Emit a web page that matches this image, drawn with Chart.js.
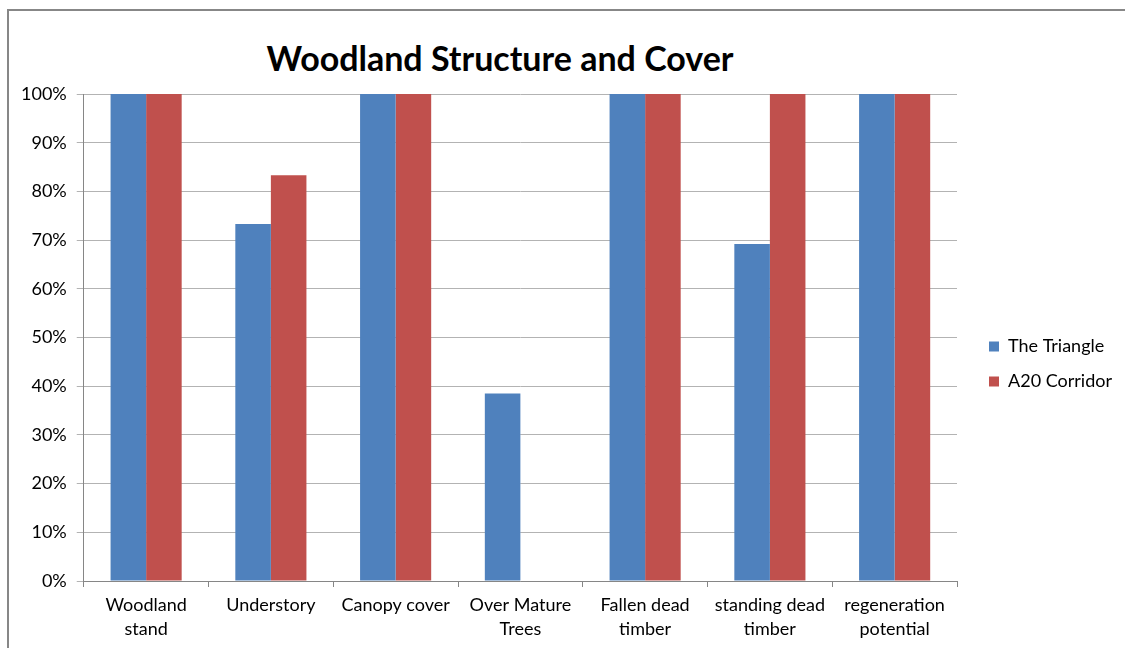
<!DOCTYPE html>
<html lang="en">

<head>
    <meta charset="UTF-8">
    <title>Woodland Structure and Cover</title>
    <script src="https://cdn.jsdelivr.net/npm/chart.js"></script>
</head>

<body style="margin: 0; background: #fff; width: 1125px; height: 648px; overflow: hidden; position: relative;">
    <div style="position: absolute; left: 7px; top: 9px; width: 1140px; height: 660px;
        border: 2px solid #878787; box-sizing: border-box;"></div>
    <div style="position: absolute; left: 0; top: 37px; width: 1000px; text-align: center;
        font-family: Lato, sans-serif; font-weight: bold; font-size: 34px; color: #000;">
        Woodland Structure and Cover</div>
    <div style="position: absolute; left: 0; top: 0; width: 1125px; height: 648px;">
        <canvas id="woodChart"></canvas>
    </div>

    <script>
        const categories = [
            ['Woodland', 'stand'],
            'Understory',
            'Canopy cover',
            ['Over Mature', 'Trees'],
            ['Fallen dead', 'timber'],
            ['standing dead', 'timber'],
            ['regeneration', 'potential']
        ];
        const triangle = [100, 73.3, 100, 38.5, 100, 69.2, 100];
        const a20Corridor = [100, 83.3, 100, 0, 100, 100, 100];

        const font = 'Lato, sans-serif';

        // empty spacer axes, only used to leave room around the plot
        const spacer = (size, key) => ({
            display: true,
            grid: { display: false },
            border: { display: false },
            ticks: { display: false },
            afterFit: s => { s[key] = size; }
        });

        const ctx = document.getElementById('woodChart').getContext('2d');
        new Chart(ctx, {
            type: 'bar',
            data: {
                labels: categories,
                datasets: [{
                    label: 'The Triangle',
                    data: triangle,
                    backgroundColor: '#4F81BD'
                }, {
                    label: 'A20 Corridor',
                    data: a20Corridor,
                    backgroundColor: '#C0504D'
                }]
            },
            options: {
                responsive: true,
                maintainAspectRatio: false,
                animation: false,
                categoryPercentage: 0.57,
                barPercentage: 1,
                layout: {
                    padding: { top: 81, left: 11, right: 3, bottom: 1 }
                },
                scales: {
                    x: {
                        grid: {
                            drawOnChartArea: false,
                            tickLength: 6,
                            color: '#868686'
                        },
                        border: { color: '#868686' },
                        ticks: {
                            color: '#000',
                            padding: 6,
                            maxRotation: 0,
                            autoSkip: false,
                            font: { family: font, size: 18, lineHeight: 1.333 }
                        }
                    },
                    y: {
                        min: 0,
                        max: 100,
                        grid: {
                            color: '#b3b3b3',
                            tickLength: 7
                        },
                        border: { color: '#868686' },
                        ticks: {
                            stepSize: 10,
                            color: '#000',
                            padding: 10,
                            font: { family: font, size: 18 },
                            callback: v => v + '%'
                        }
                    },
                    xTop: { type: 'category', position: 'top', ...spacer(13, 'height') },
                    yRight: { type: 'linear', position: 'right', ...spacer(15, 'width') }
                },
                plugins: {
                    legend: {
                        position: 'right',
                        labels: {
                            boxWidth: 10,
                            boxHeight: 10,
                            padding: 17,
                            color: '#000',
                            font: { family: font, size: 18 }
                        }
                    },
                    tooltip: { enabled: false }
                }
            }
        });
    </script>
</body>

</html>
